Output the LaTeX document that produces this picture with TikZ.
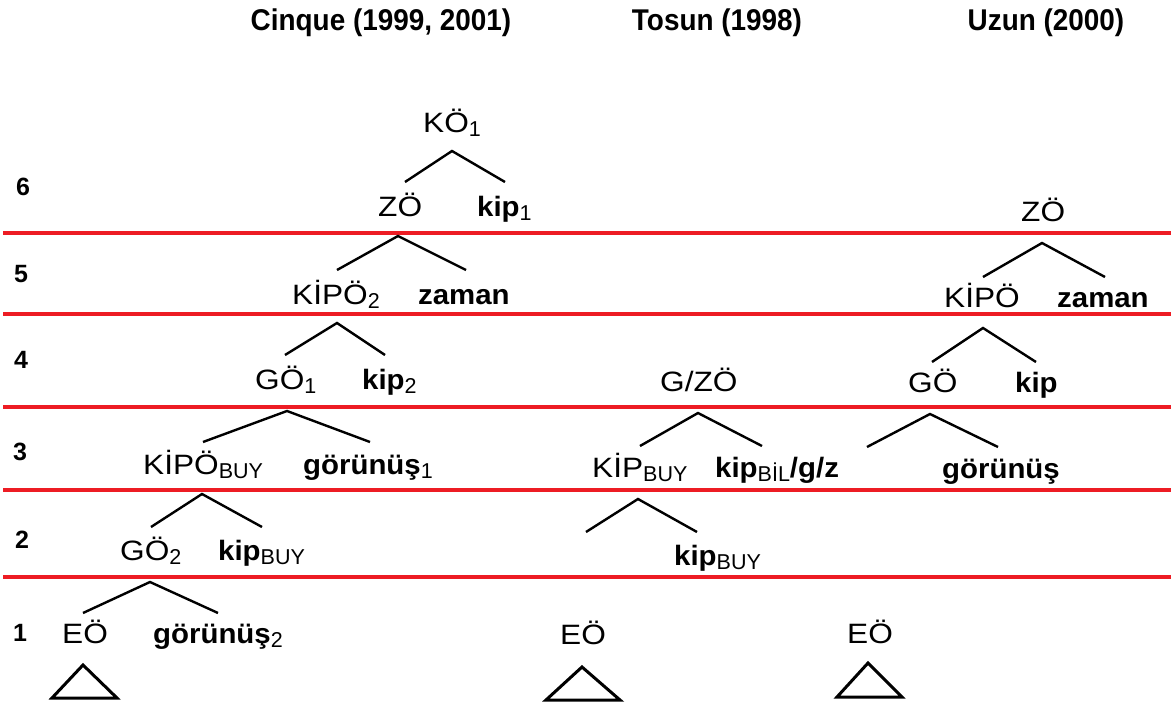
\documentclass[tikz,border=0pt]{standalone}
\usepackage{fontspec}
\setmainfont{Liberation Sans}
\newfontfamily\catfont{Liberation Sans}[FakeStretch=1.13]
\newfontfamily\wrdfont{Liberation Sans}[UprightFont={* Bold}, FakeStretch=1.05]
\newfontfamily\headfont{Liberation Sans}[UprightFont={* Bold}, FakeStretch=0.93]
\definecolor{lvred}{RGB}{237,28,36}
\newcommand{\lowsub}[1]{\raisebox{-4pt}{\fontsize{21.5}{22}\rmfamily\mdseries\selectfont #1}}
\tikzset{
  lab/.style={anchor=base west, inner sep=0pt, font=\fontsize{28}{30}\catfont},
  wrd/.style={anchor=base west, inner sep=0pt, font=\fontsize{28}{30}\wrdfont},
  head/.style={anchor=base, inner sep=0pt, font=\fontsize{30}{32}\headfont},
  num/.style={anchor=center, inner sep=0pt, font=\fontsize{25}{26}\selectfont\bfseries},
  level/.style={draw=lvred, line width=4pt},
  branch/.style={draw=black, line width=2.4pt},
  tri/.style={draw=black, line width=3pt, line join=miter}
}
\begin{document}
\begin{tikzpicture}[x=1pt,y=-1pt]
\useasboundingbox (0,0) rectangle (1171,706);
% headings
\node[head] (h1) at (381,31) {Cinque (1999, 2001)};
\node[head] (h2) at (717,31) {Tosun (1998)};
\node[head] (h3) at (1046,31) {Uzun (2000)};
% level numbers
\node[num] (n6) at (23,187) {6};
\node[num] (n5) at (21,274) {5};
\node[num] (n4) at (21,360) {4};
\node[num] (n3) at (20,452) {3};
\node[num] (n2) at (22,540) {2};
\node[num] (n1) at (20,633) {1};
% red level lines
\coordinate (l1a) at (3,233); \coordinate (l1b) at (1171,233);
\coordinate (l2a) at (3,314); \coordinate (l2b) at (1171,314);
\coordinate (l3a) at (3,407); \coordinate (l3b) at (1171,407);
\coordinate (l4a) at (3,490); \coordinate (l4b) at (1171,490);
\coordinate (l5a) at (3,577); \coordinate (l5b) at (1171,577);
\foreach \l in {l1,l2,l3,l4,l5} \draw[level] (\l a) -- (\l b);
% ---------------- Cinque ----------------
\node[lab] (cKO) at (423,133) {KÖ\lowsub{1}};
\node[lab] (cZO) at (378,217) {ZÖ};
\node[wrd] (ckip1) at (477,217) {kip\lowsub{1}};
\node[lab] (cKIPO2) at (292,304) {KİPÖ\lowsub{2}};
\node[wrd] (czaman) at (418,304) {zaman};
\node[lab] (cGO1) at (255,389) {GÖ\lowsub{1}};
\node[wrd] (ckip2) at (362,389) {kip\lowsub{2}};
\node[lab] (cKIPOB) at (143,474) {KİPÖ\lowsub{BUY}};
\node[wrd] (cgor1) at (303,474) {görünüş\lowsub{1}};
\node[lab] (cGO2) at (120,560) {GÖ\lowsub{2}};
\node[wrd] (ckipB) at (218,560) {kip\lowsub{BUY}};
\node[lab] (cEO) at (62,643) {EÖ};
\node[wrd] (cgor2) at (153,643) {görünüş\lowsub{2}};
% branches
\coordinate (c1t) at (452,151); \coordinate (c1l) at (405,182); \coordinate (c1r) at (505,182);
\coordinate (c2t) at (398,236); \coordinate (c2l) at (337,270); \coordinate (c2r) at (466,270);
\coordinate (c3t) at (337,323); \coordinate (c3l) at (285,355); \coordinate (c3r) at (385,355);
\coordinate (c4t) at (287,411); \coordinate (c4l) at (203,442); \coordinate (c4r) at (370,442);
\coordinate (c5t) at (202,494); \coordinate (c5l) at (151,527); \coordinate (c5r) at (262,527);
\coordinate (c6t) at (150,582); \coordinate (c6l) at (83,613);  \coordinate (c6r) at (218,613);
% ---------------- Tosun ----------------
\node[lab] (tGZO) at (660,391) {G/ZÖ};
\node[lab] (tKIPB) at (592,477) {KİP\lowsub{BUY}};
\node[wrd] (tkipB) at (715,477) {kip\lowsub{BİL}/g/z};
\node[wrd] (tkipBUY) at (674,565) {kip\lowsub{BUY}};
\node[lab] (tEO) at (560,644) {EÖ};
\coordinate (t1t) at (698,413); \coordinate (t1l) at (640,446); \coordinate (t1r) at (762,446);
\coordinate (t2t) at (638,499); \coordinate (t2l) at (586,532); \coordinate (t2r) at (697,532);
% ---------------- Uzun ----------------
\node[lab] (uZO) at (1021,222) {ZÖ};
\node[lab] (uKIPO) at (944,307) {KİPÖ};
\node[wrd] (uzaman) at (1057,307) {zaman};
\node[lab] (uGO) at (908,392) {GÖ};
\node[wrd] (ukip) at (1015,392) {kip};
\node[wrd] (ugor) at (942,478) {görünüş};
\node[lab] (uEO) at (847,643) {EÖ};
\coordinate (u1t) at (1042,243); \coordinate (u1l) at (983,277); \coordinate (u1r) at (1105,277);
\coordinate (u2t) at (983,328);  \coordinate (u2l) at (932,362); \coordinate (u2r) at (1036,362);
\coordinate (u3t) at (930,414);  \coordinate (u3l) at (867,447); \coordinate (u3r) at (998,447);
% draw all branches
\foreach \b in {c1,c2,c3,c4,c5,c6,t1,t2,u1,u2,u3}
  \draw[branch] (\b l) -- (\b t) -- (\b r);
% triangles
\coordinate (ta1) at (83,665);  \coordinate (ta2) at (52,698);  \coordinate (ta3) at (117,698);
\coordinate (tb1) at (582,667); \coordinate (tb2) at (546,700); \coordinate (tb3) at (620,700);
\coordinate (tc1) at (868,663); \coordinate (tc2) at (837,697); \coordinate (tc3) at (902,697);
\foreach \t in {ta,tb,tc}
  \draw[tri] (\t 1) -- (\t 2) -- (\t 3) -- cycle;
\end{tikzpicture}
\end{document}
